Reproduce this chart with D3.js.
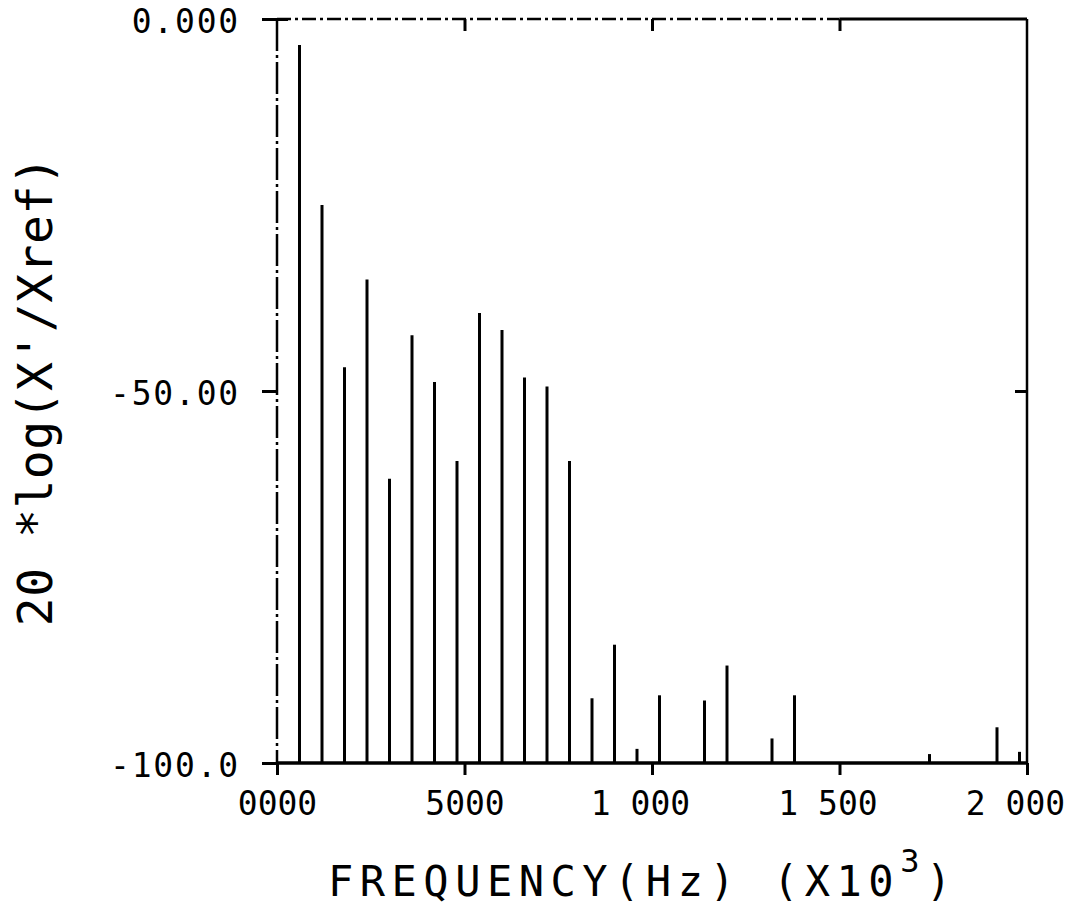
<!DOCTYPE html>
<html>
<head>
<meta charset="utf-8">
<script src="https://cdn.jsdelivr.net/npm/d3@7"></script>
<style>
  body { margin: 0; background: #fff; }
  svg { display: block; }
  .tick text { font-family: "DejaVu Sans Mono", monospace; fill: #000; }
</style>
</head>
<body>
<svg id="chart" width="1082" height="913"></svg>
<script>
// harmonic lines (Hz) and their level in dB
const freqs = [60, 120, 180, 240, 300, 360, 420, 480, 540, 600, 660, 720, 780,
  840, 900, 960, 1020, 1140, 1200, 1320, 1380, 1740, 1920, 1980];
const levels = [-3.5, -25, -46.8, -35, -61.8, -42.5, -48.8, -59.4, -39.5, -41.8,
  -48.2, -49.4, -59.4, -91.3, -84.1, -98.1, -90.9, -91.6, -86.9, -96.7, -90.9,
  -98.8, -95.2, -98.5];

const xTicks = [0, 500, 1000, 1500, 2000];
const xTickLabels = ["0000", "5000", "1 000", "1 500", "2 000"];
const yTicks = [0, -50, -100];
const yTickLabels = ["0.000", "-50.00", "-100.0"];

const W = 1082, H = 913;
const margin = { top: 19, right: 55, bottom: 150, left: 277 };

var svg = d3.select("#chart");
var x = d3.scaleLinear().domain([0, 2000]).range([margin.left, W - margin.right]);
var y = d3.scaleLinear().domain([-100, 0]).range([H - margin.bottom, margin.top]);

var g = svg.append("g");

// frame, the scanned original has broken top / left edges
g.append("line")
  .attr("x1", x(0)).attr("x2", x(1500))
  .attr("y1", y(0)).attr("y2", y(0))
  .attr("stroke", "#000").attr("stroke-width", 2.5)
  .attr("stroke-dasharray", "14,4,3,4");
g.append("line")
  .attr("x1", x(1500)).attr("x2", x(2000))
  .attr("y1", y(0)).attr("y2", y(0))
  .attr("stroke", "#000").attr("stroke-width", 3);
g.append("line")
  .attr("x1", x(0)).attr("x2", x(0))
  .attr("y1", y(0)).attr("y2", y(-100))
  .attr("stroke", "#000").attr("stroke-width", 2.5)
  .attr("stroke-dasharray", "32,4,3,4");
g.append("line")
  .attr("x1", x(2000)).attr("x2", x(2000))
  .attr("y1", y(0)).attr("y2", y(-100))
  .attr("stroke", "#000").attr("stroke-width", 2.5);

// spectral lines
g.selectAll(".spike")
  .data(freqs.map((f, i) => ({ f: f, db: levels[i] })))
  .enter()
  .append("line")
  .attr("class", "spike")
  .attr("x1", d => x(d.f)).attr("x2", d => x(d.f))
  .attr("y1", y(-100)).attr("y2", d => y(d.db))
  .attr("stroke", "#000")
  .attr("stroke-width", 3);

g.append("line")
  .attr("x1", x(0)).attr("x2", x(2000))
  .attr("y1", y(-100)).attr("y2", y(-100))
  .attr("stroke", "#000").attr("stroke-width", 3.5);

function styleAxis(sel) {
  sel.select(".domain").remove();
  sel.selectAll(".tick line").attr("stroke", "#000").attr("stroke-width", 3);
}

// bottom
var xAxis = g.append("g")
  .attr("transform", "translate(0," + y(-100) + ")")
  .call(d3.axisBottom(x).tickValues(xTicks).tickSize(12)
    .tickFormat((d, i) => xTickLabels[i]));
styleAxis(xAxis);
xAxis.selectAll(".tick text")
  .attr("y", 29)
  .attr("font-size", 33)
  // the plotter centred the 5-char labels a bit to the left
  .attr("dx", function() { return this.textContent.length > 4 ? -12 : 0; });

// top, ticks point inward
var topAxis = g.append("g")
  .attr("transform", "translate(0," + y(0) + ")")
  .call(d3.axisTop(x).tickValues([500, 1000, 1500]).tickSize(-12).tickFormat(""));
styleAxis(topAxis);

// left
var yAxis = g.append("g")
  .attr("transform", "translate(" + x(0) + ",0)")
  .call(d3.axisLeft(y).tickValues(yTicks).tickSize(15)
    .tickFormat((d, i) => yTickLabels[i]));
styleAxis(yAxis);
yAxis.selectAll(".tick text")
  .attr("x", -37)
  .attr("dy", "0.4em")
  .attr("font-size", 33)
  .attr("letter-spacing", 1.8);

var cornerTick = g.append("g")
  .attr("transform", "translate(" + x(0) + ",0)")
  .call(d3.axisLeft(y).tickValues([0]).tickSize(-11).tickFormat(""));
styleAxis(cornerTick);

// right, inward
var rightAxis = g.append("g")
  .attr("transform", "translate(" + x(2000) + ",0)")
  .call(d3.axisRight(y).tickValues([-50]).tickSize(-12).tickFormat(""));
styleAxis(rightAxis);

// axis titles
svg.append("text")
  .attr("transform", "translate(52," + y(-50) + ") rotate(-90)")
  .attr("text-anchor", "middle")
  .attr("font-family", "DejaVu Sans Mono, monospace")
  .attr("font-size", 48)
  .attr("letter-spacing", 0.5)
  .text("20 *log(X'/Xref)");

var xt = svg.append("text")
  .attr("x", 328)
  .attr("y", 896)
  .attr("font-family", "DejaVu Sans Mono, monospace")
  .attr("font-size", 42)
  .attr("letter-spacing", 6.5);
xt.append("tspan").text("FREQUENCY(Hz) (X10");
xt.append("tspan").attr("dy", -24).attr("font-size", 32).text("3");
xt.append("tspan").attr("dy", 24).text(")");
</script>
</body>
</html>
